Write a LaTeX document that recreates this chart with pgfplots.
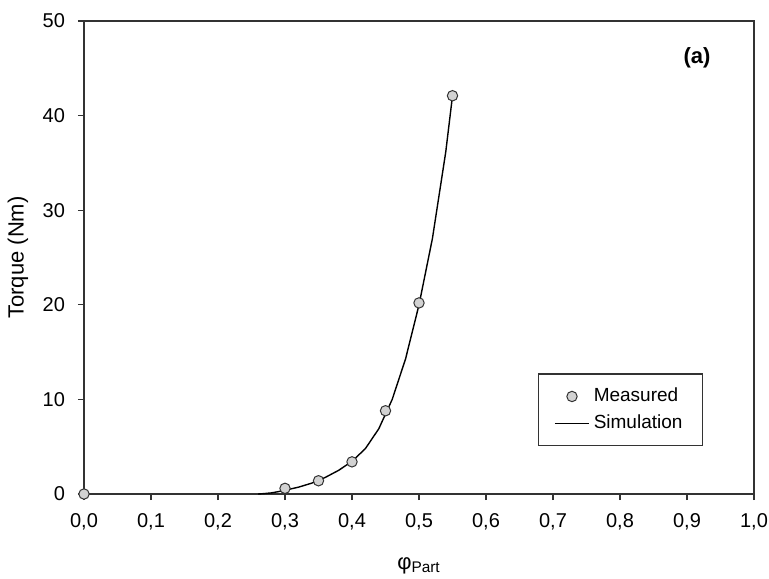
\documentclass[border=0pt]{standalone}
\usepackage{fontspec}
\setmainfont{Liberation Sans}
\usepackage{pgfplots}
\pgfplotsset{compat=1.18}
\begin{document}
\begin{tikzpicture}
\path[use as bounding box] (-42pt,-42pt) rectangle (342.5pt,247pt);
\begin{axis}[
  scale only axis,
  width=335pt, height=236.5pt,
  xmin=0, xmax=1, ymin=0, ymax=50,
  xtick={0,0.1,...,1.0}, ytick={0,10,...,50},
  tick align=outside, tick pos=left,
  major tick length=3pt,
  axis line style={black!80, line width=0.6pt},
  tick style={black!80, line width=0.6pt},
  /pgf/number format/assume math mode=true,
  xticklabel style={/pgf/number format/use comma, /pgf/number format/fixed, /pgf/number format/fixed zerofill, /pgf/number format/precision=1, yshift=-3pt},
  yticklabel style={/pgf/number format/fixed, /pgf/number format/precision=0, xshift=-3pt},
  ticklabel style={font=\fontsize{10}{12}\selectfont},
  label style={font=\fontsize{11}{13}\selectfont},
  xlabel={φ\textsubscript{Part}},
  ylabel={Torque (Nm)},
  xlabel style={at={(axis description cs:0.5,0)}, anchor=center, yshift=-36pt},
  ylabel style={at={(axis description cs:0,0.5)}, anchor=center, yshift=33pt},
  clip=false,
  legend style={at={(axis description cs:0.924,0.101)}, anchor=south east,
    draw=black!80, line width=0.6pt, font=\fontsize{9.5}{11}\selectfont,
    inner xsep=8pt, inner ysep=5pt, row sep=1pt},
  legend cell align=left,
]
\addplot[only marks, mark=*, mark size=2.6pt, mark options={fill=gray!35, draw=black!80, line width=0.5pt}]
coordinates {(0,0) (0.30,0.6) (0.35,1.4) (0.40,3.4) (0.45,8.8) (0.50,20.2) (0.55,42.1)};
\addlegendentry{Measured}
\addplot[black, line width=0.7pt]
coordinates {(0.26,0.0) (0.27,0.05) (0.28,0.12) (0.29,0.25) (0.30,0.4) (0.32,0.72) (0.34,1.15) (0.36,1.75) (0.38,2.5) (0.40,3.45) (0.42,4.8) (0.44,6.9) (0.46,10.0) (0.48,14.3) (0.50,20.0) (0.52,27.0) (0.54,36.2) (0.55,42.1)};
\addlegendentry{Simulation}
\node[font=\bfseries\fontsize{11}{13}\selectfont] at (axis description cs:0.915,0.922) {(a)};
\end{axis}
\end{tikzpicture}
\end{document}
